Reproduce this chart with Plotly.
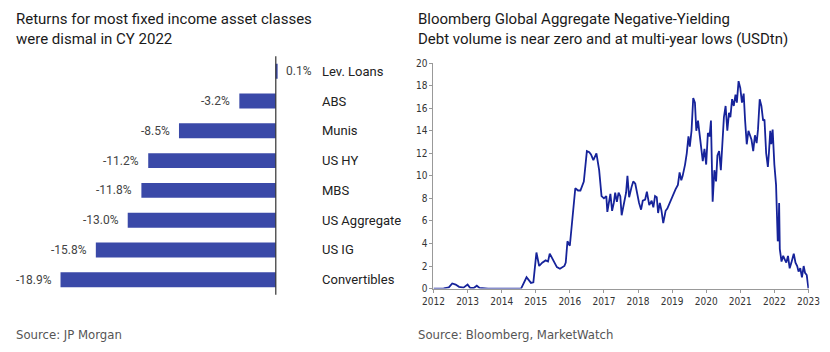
import plotly.graph_objects as go

W, H = 830, 352

# ---- Left chart data ----
categories = ["Lev. Loans", "ABS", "Munis", "US HY", "MBS", "US Aggregate", "US IG", "Convertibles"]
returns = [0.1, -3.2, -8.5, -11.2, -11.8, -13.0, -15.8, -18.9]

# ---- Right chart data (decimal years, USD tn) ----
years = [2012.00, 2012.30, 2012.45, 2012.55, 2012.65, 2012.75, 2012.88, 2013.00, 2013.08, 2013.18,
         2013.27, 2013.35, 2013.60, 2014.00, 2014.30, 2014.57,
         2014.73, 2014.86, 2014.93, 2015.02, 2015.10, 2015.19, 2015.29, 2015.36, 2015.41, 2015.52,
         2015.62, 2015.71, 2015.84, 2015.88, 2015.93, 2016.00, 2016.10, 2016.16, 2016.24, 2016.31,
         2016.41, 2016.50, 2016.57, 2016.62, 2016.69, 2016.78, 2016.86, 2016.93, 2017.00,
         2017.07, 2017.10, 2017.14, 2017.19, 2017.24, 2017.29, 2017.33, 2017.38, 2017.43, 2017.48,
         2017.52, 2017.59, 2017.65, 2017.69, 2017.74, 2017.81, 2017.86, 2017.92, 2017.97,
         2018.03, 2018.09, 2018.14, 2018.21, 2018.26, 2018.33, 2018.40, 2018.45, 2018.50, 2018.55,
         2018.59, 2018.64, 2018.69, 2018.74, 2018.81, 2018.86, 2018.95,
         2019.02, 2019.10, 2019.17, 2019.22, 2019.27, 2019.31, 2019.38, 2019.43, 2019.48, 2019.52,
         2019.57, 2019.62, 2019.67, 2019.71, 2019.76, 2019.81, 2019.86, 2019.90, 2019.95,
         2020.00, 2020.05, 2020.10, 2020.14, 2020.19, 2020.24, 2020.29, 2020.33, 2020.38, 2020.43,
         2020.48, 2020.52, 2020.57, 2020.62, 2020.67, 2020.71, 2020.76, 2020.81, 2020.86, 2020.90,
         2020.95, 2021.00, 2021.05, 2021.10, 2021.14, 2021.19, 2021.24, 2021.29, 2021.33, 2021.38,
         2021.43, 2021.48, 2021.52, 2021.57, 2021.62, 2021.67, 2021.71, 2021.76, 2021.81, 2021.84,
         2021.88, 2021.91, 2021.95, 2022.00, 2022.05, 2022.10, 2022.12, 2022.14, 2022.16, 2022.21,
         2022.26, 2022.30, 2022.35, 2022.40, 2022.45, 2022.50, 2022.57, 2022.62, 2022.67, 2022.71,
         2022.76, 2022.81, 2022.86, 2022.90, 2022.95, 2023.00]
volume = [0.0, 0.02, 0.1, 0.45, 0.35, 0.15, 0.08, 0.35, 0.05, 0.05,
          0.25, 0.05, 0.0, 0.0, 0.02, 0.0,
          1.0, 0.5, 0.55, 3.2, 2.0, 2.3, 2.5, 2.4, 3.1, 2.5,
          1.9, 1.75, 2.0, 2.3, 4.2, 3.8, 7.0, 8.9, 8.7, 8.7,
          9.5, 12.2, 12.1, 11.9, 11.4, 12.0, 10.5, 8.2, 8.0,
          8.2, 6.8, 7.5, 8.4, 6.9, 7.6, 8.5, 7.7, 8.5, 8.2,
          6.5, 7.8, 8.5, 10.0, 8.1, 9.0, 9.5, 9.3, 8.5,
          7.6, 7.0, 7.8, 7.9, 8.6, 7.4, 7.8, 7.2, 8.2, 8.1,
          6.7, 7.6, 6.9, 5.8, 6.9, 7.1, 7.8,
          8.2, 8.8, 9.2, 10.3, 9.6, 10.0, 11.0, 12.0, 13.5, 12.6,
          14.0, 16.9, 16.5, 14.0, 14.9, 13.5, 12.2, 11.3, 12.4,
          11.0, 13.8, 13.5, 14.9, 7.7, 10.5, 9.5, 11.8, 12.2, 10.5,
          13.5, 15.2, 16.2, 14.0, 15.6, 15.2, 16.8, 16.2, 17.2, 16.5,
          18.4, 17.8, 16.5, 17.3, 15.0, 12.8, 14.0, 13.5, 13.2, 12.2,
          13.6, 12.9, 14.1, 16.8, 16.2, 14.9, 15.0, 12.0, 10.8, 12.0,
          14.0, 12.8, 14.1, 11.0, 9.2, 4.2, 4.5, 7.6, 3.5, 2.4,
          2.9, 2.6, 2.3, 2.9, 1.8, 2.3, 3.1, 2.3, 2.0, 1.5,
          1.8, 1.0, 2.0, 1.4, 1.2, 0.0]
year_ticks = list(range(2012, 2024))
y_ticks = list(range(0, 21, 2))

titles = ["Returns for most fixed income asset classes<br>were dismal in CY 2022",
          "Bloomberg Global Aggregate Negative-Yielding<br>Debt volume is near zero and at multi-year lows (USDtn)"]
sources = ["Source: JP Morgan", "Source: Bloomberg, MarketWatch"]

BAR = "#3a49a8"
LINE = "#16239a"
TITLE_FONT = "Roboto, Inter, sans-serif"
NARROW = "Liberation Sans Narrow, DejaVu Sans Condensed, Roboto, sans-serif"


def px_x(a, b):
    return [a / W, b / W]


def px_y(top, bottom):
    return [(H - bottom) / H, (H - top) / H]


fig = go.Figure()

fig.add_trace(go.Bar(
    x=returns, y=categories, orientation="h",
    marker=dict(color=BAR, line=dict(width=0)),
    width=0.5, xaxis="x", yaxis="y", hoverinfo="skip", showlegend=False,
))

fig.add_trace(go.Scatter(
    x=years, y=volume, mode="lines",
    line=dict(color=LINE, width=1.8),
    xaxis="x2", yaxis="y2", hoverinfo="skip", showlegend=False,
))

# left axes: zero at px 272, 11.7 px per %
scale = 11.7
zero_px = 272
lx0, lx1 = 14, 412

fig.update_layout(
    xaxis=dict(domain=px_x(lx0, lx1),
               range=[(lx0 - zero_px) / scale, (lx1 - zero_px) / scale],
               showgrid=False, showticklabels=False, ticks="",
               zeroline=False, anchor="y", fixedrange=True),
    yaxis=dict(domain=px_y(53, 299), range=[7.5, -0.5],
               categoryorder="array", categoryarray=categories,
               showgrid=False, showticklabels=False, ticks="", zeroline=False,
               anchor="x", fixedrange=True),
    xaxis2=dict(domain=px_x(434, 819.5), range=[2012, 2023.01],
                tickmode="array", tickvals=year_ticks,
                ticks="outside", ticklen=3, tickcolor="#999999",
                showline=True, linecolor="#999999", linewidth=1,
                showgrid=False, zeroline=False, ticklabeloverflow="allow",
                tickfont=dict(family=NARROW, size=10, color="#333333"),
                anchor="y2", fixedrange=True),
    yaxis2=dict(domain=px_y(60, 292.7), range=[0, 20],
                tickmode="array", tickvals=y_ticks,
                ticks="outside", ticklen=3, tickcolor="#999999",
                showline=True, linecolor="#999999", linewidth=1,
                showgrid=False, zeroline=False,
                tickfont=dict(family=NARROW, size=10, color="#333333"),
                anchor="x2", fixedrange=True),
    shapes=[dict(type="line", xref="x", yref="y domain", x0=0, x1=0, y0=0, y1=1,
                 line=dict(color="#333333", width=1.2), layer="above")],
)

annotations = []
for cat, val in zip(categories, returns):
    annotations.append(dict(
        x=val, y=cat, xref="x", yref="y", text=f"{val:.1f}%",
        showarrow=False, xanchor="left" if val >= 0 else "right",
        xshift=7 if val >= 0 else -7,
        font=dict(family=TITLE_FONT, size=12, color="#444444"),
    ))
    annotations.append(dict(
        x=(317 - zero_px) / scale, y=cat, xref="x", yref="y", text=cat,
        showarrow=False, xanchor="left",
        font=dict(family=TITLE_FONT, size=13, color="#222222"),
    ))

for t, x0 in zip(titles, [3, 416]):
    annotations.append(dict(
        x=x0 / W, y=1 - 3 / H, xref="paper", yref="paper", text=t,
        showarrow=False, xanchor="left", yanchor="top", align="left",
        font=dict(family=TITLE_FONT, size=15, color="#1a1a1a"),
    ))

for s, x0 in zip(sources, [3, 416]):
    annotations.append(dict(
        x=x0 / W, y=(H - 340) / H, xref="paper", yref="paper", text=s,
        showarrow=False, xanchor="left", yanchor="middle",
        font=dict(family=NARROW, size=13, color="#555555"),
    ))

fig.update_layout(
    width=W, height=H, margin=dict(l=0, r=0, t=0, b=0),
    paper_bgcolor="white", plot_bgcolor="white",
    annotations=annotations, bargap=0.5,
)

fig.write_html("out.html", config={"displayModeBar": False})
